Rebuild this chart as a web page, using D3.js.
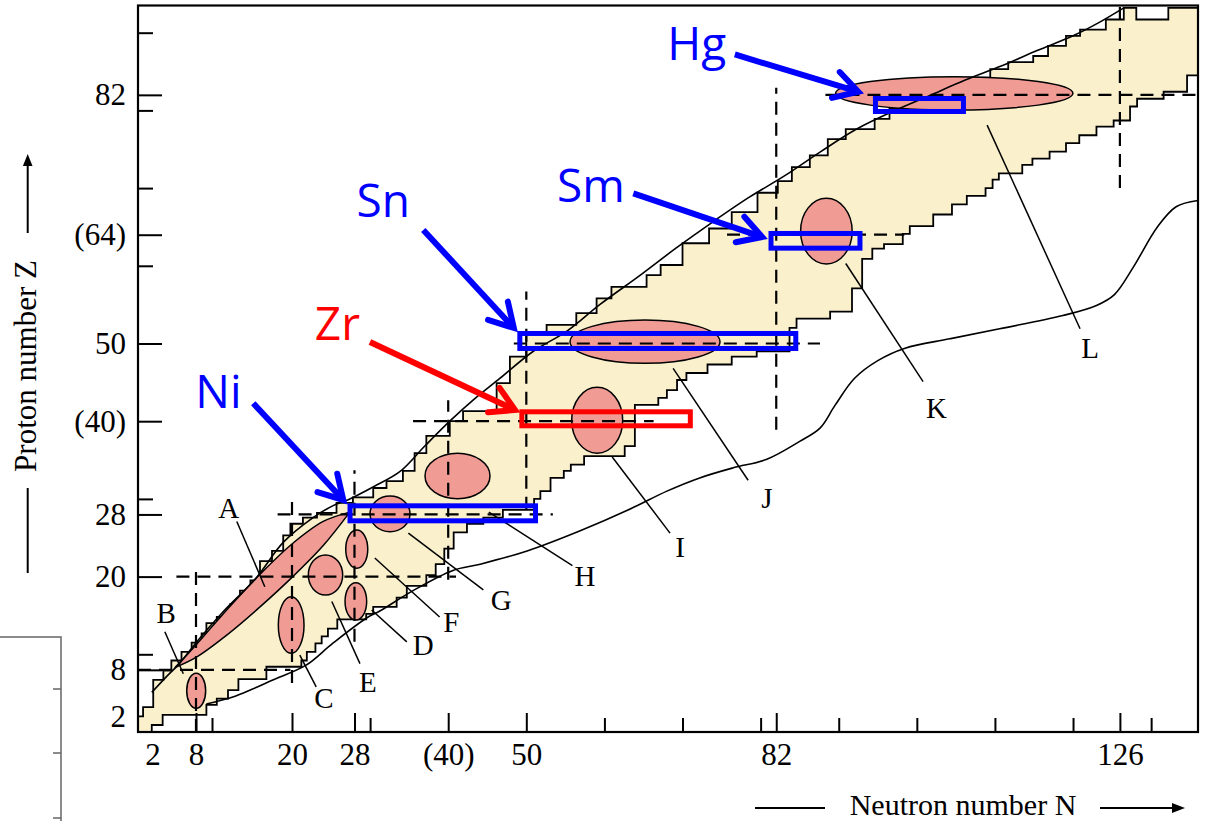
<!DOCTYPE html>
<html>
<head>
<meta charset="utf-8">
<script src="https://cdn.jsdelivr.net/npm/d3@7"></script>
<style>
  html, body { margin: 0; padding: 0; background: #fff; }
  svg { display: block; }
</style>
</head>
<body>
<svg id="chart" width="1205" height="821"></svg>
<script>
// ---------------- data (N = neutron number, Z = proton number) ----------------

// Known-nuclide band, proton-rich edge: rows of [left N, row top Z], bottom to top
const leftRows = [
  [0,2.0],[0.7,3.2],[2.1,6.7],[3.5,7.9],[4.6,9.2],[6.0,10.3],[7.4,11.5],[8.7,12.7],
  [9.3,14.0],[10.6,14.8],[12.3,16.5],[13.5,18.2],[14.8,19.5],[16.0,22.0],[17.5,23.3],
  [18.9,25.3],[19.8,26.8],[21.4,27.6],[23.2,28.2],[25.7,29.5],[27.8,30.2],[30.4,31.4],
  [32.1,32.3],[34.2,33.6],[35.7,35.9],[37.2,38.1],[40.2,40.0],[41.9,41.3],[46.2,44.9],
  [47.9,48.3],[50.0,51.2],[52.6,52.4],[56.4,53.9],[59.0,55.8],[60.9,57.3],[65.4,58.8],
  [67.2,60.1],[70.0,62.9],[73.4,64.8],[76.3,66.9],[79.6,69.4],[82.2,70.9],[84.0,72.7],
  [86.3,74.2],[88.6,76.3],[90.9,77.6],[94.6,78.9],[96.5,80.2],[99.0,81.2],[101.5,82.2],
  [104.0,83.2],[106.6,84.2],[109.4,85.3],[111.7,86.2],[114.9,87.0],[116.8,88.3],
  [119.1,89.6],[120.9,90.4],[124.2,91.7],[126.5,93.2]
];
// top edge of the band (with its small notch)
const topEdge = [[128.1,93.2],[128.1,91.7],[132.2,91.7],[132.2,93.2]];
const zCeil = 93.2;
// neutron-rich edge: rows of [row bottom Z, right N], bottom to top
const rightRows = [
  [0,1.9],[0.9,3.4],[2.2,9.3],[3.5,10.6],[4.3,12.0],[5.4,13.3],[6.8,16.8],[8.4,21.2],
  [9.2,21.9],[10.3,23.0],[11.4,23.8],[12.3,24.6],[13.3,25.8],[14.5,29.5],[15.2,30.4],
  [16.1,33.4],[17.3,34.7],[18.8,37.2],[20.2,38.4],[21.6,39.5],[23.6,40.7],[25.7,42.4],
  [26.8,44.5],[27.6,47.0],[28.6,51.0],[30.0,51.8],[31.0,53.1],[32.7,54.8],[33.6,55.7],
  [34.4,57.4],[35.5,62.6],[36.8,63.9],[42.1,66.9],[43.0,68.0],[44.0,69.3],[45.3,70.5],
  [46.2,73.2],[47.3,76.3],[48.3,79.5],[49.0,83.7],[52.0,84.6],[53.2,88.9],[54.1,91.7],
  [57.1,93.0],[60.9,94.3],[62.2,95.8],[62.8,98.2],[64.1,99.1],[65.1,102.1],[66.6,104.5],
  [67.9,106.4],[69.0,108.8],[70.0,109.7],[71.1,110.5],[71.9,113.5],[73.0,114.8],
  [73.8,117.0],[74.7,119.1],[75.8,120.8],[76.8,123.0],[77.9,125.2],[78.7,127.3],
  [80.5,128.2],[81.5,131.6],[82.4,134.6],[84.5,136.0]
];

// proton drip line and neutron drip line [N, Z]
const protonDrip = [
  [1.9,5.1],[3.8,7.0],[5.8,8.9],[8.0,11.5],[11.5,15.6],[15.5,19.8],[18.9,24.4],[22.7,27.6],
  [25.2,29.1],[27.2,29.9],[30.5,31.6],[33.8,33.5],[37.0,36.8],[40.2,40.0],[43.4,42.9],
  [46.6,45.5],[50.9,49.0],[55.2,51.6],[59.4,55.0],[64.6,58.8],[69.2,62.3],[73.8,65.6],
  [78.5,68.8],[83.1,71.6],[87.7,74.7],[92.3,77.6],[97.0,79.9],[101.6,81.9],[106.2,83.9],
  [110.8,85.7],[115.4,87.7],[120.0,89.6],[123.3,91.3],[126.5,93.2]
];
const neutronDrip = [
  [9.3,3.6],[12.6,4.5],[15.0,5.5],[17.6,6.7],[21.8,8.6],[25.2,11.4],[29.6,14.7],[31.3,15.6],
  [35.5,18.2],[40.6,20.8],[44.1,21.6],[50.1,23.3],[56.9,25.9],[63.3,28.7],[68.0,31.0],
  [72.2,32.7],[76.5,34.0],[80.8,35.1],[85.0,37.4],[87.6,39.1],[89.5,42.0],[92.0,45.5],
  [95.0,47.8],[98.5,49.4],[104.2,50.6],[110.6,51.9],[118.7,53.6],[123.0,54.9],[125.3,56.3],
  [127.7,59.8],[130.8,65.0],[133.2,67.6],[136.0,68.4]
];

// deformation region A (lens between two edges)
const lensUpper = [[5.1,8.3],[8.0,11.2],[12.0,15.9],[16.0,20.3],[20.0,24.2],[24.0,27.1],[27.4,28.3]];
const lensLower = [[5.1,8.3],[8.0,9.6],[12.0,12.6],[16.0,16.1],[20.0,19.9],[24.0,24.0],[27.4,28.3]];

// other deformation regions: [N min, N max, Z min, Z max]
const regions = [
  [6.72, 9.21, 3.05, 7.55],
  [18.29, 21.54, 10.13, 17.41],
  [26.79, 29.56, 14.41, 19.21],
  [22.09, 26.49, 17.63, 22.78],
  [26.88, 29.70, 21.07, 26.00],
  [29.99, 35.11, 25.78, 30.37],
  [37.03, 45.35, 30.03, 35.87],
  [55.81, 62.34, 35.87, 44.36],
  [55.60, 74.80, 47.45, 53.02],
  [85.12, 91.72, 60.23, 68.69],
  [89.60, 119.99, 80.05, 84.34]
];

// magic-number guide lines
const magicZ = [[8, 0, 19.8], [20, 5.3, 41.0], [28, 18.2, 53.4], [40, 35.5, 66.3], [50, 48.4, 87.6], [64, 75.7, 98.4], [82, 88.3, 136]];
const magicN = [[8, 0, 21.5], [20, 6.3, 29.9], [28, 11.6, 33.7], [40, 19.6, 42.7], [50, 28.6, 56.7], [82, 38.9, 82.9], [126, 70.0, 93.5]];

// region letters and their leader lines
const letters = ["A","B","C","D","E","F","G","H","I","J","K","L"];
const letterPos = [[12.1,27.5],[3.9,14.0],[24.1,3.1],[36.8,9.9],[29.7,5.1],[40.4,12.9],[46.8,15.7],[57.5,18.8],[69.7,22.5],[80.8,28.8],[102.5,40.4],[122.2,48.1]];
const leaderFrom = [[13.1,27.1],[3.7,12.9],[21.0,9.9],[30.2,15.7],[25.1,16.8],[30.6,22.4],[34.9,25.6],[45.2,28.3],[61.0,35.4],[68.8,46.8],[90.9,60.3],[109.0,78.1]];
const leaderTo = [[16.6,18.7],[6.25,7.5],[23.1,5.8],[34.7,11.6],[28.7,8.8],[38.9,14.8],[44.5,18.3],[55.9,21.4],[68.4,25.6],[78.4,32.4],[100.8,45.1],[120.9,51.9]];

// highlighted isotope chains: [N min, N max, Z min, Z max]
const elements = ["Ni","Zr","Sn","Sm","Hg"];
const elementColor = ["#0000ff","#ff0000","#0000ff","#0000ff","#0000ff"];
const chainBox = [
  [27.43, 51.18, 27.18, 29.11],
  [49.43, 71.00, 39.41, 41.21],
  [49.17, 84.50, 49.36, 51.29],
  [81.33, 92.72, 62.27, 64.16],
  [94.70, 105.97, 79.86, 81.53]
];
const elementLabelPos = [[13.7,41.66],[28.7,50.45],[35.1,66.3],[62.6,68.2],[75.6,86.5]];
const arrowTail = [[15.16,42.3],[29.98,50.2],[36.81,64.61],[63.7,69.33],[76.7,87.2]];
const arrowTip  = [[26.57,29.86],[48.55,41.44],[48.4,52.0],[80.2,63.71],[92.5,82.4]];

// axis ticks
const xLabels = [2, 8, 20, 28, 40, 50, 82, 126];
const xMajor = [8, 20, 28, 40, 50, 82, 126];
const xMinor = [10, 30, 60, 70, 80, 90, 100, 110, 120, 130];
const yLabels = [2, 8, 20, 28, 40, 50, 64, 82];
const yMajor = [8, 20, 28, 40, 50, 64, 82];
const yMinor = [10, 30, 60, 70, 80, 90];
const bracketed = [40, 64];

// ---------------- drawing ----------------
const YELLOW = "#faf1cc", PINK = "#f09b94";
const SERIF = "'Liberation Serif', 'DejaVu Serif', serif";

const svg = d3.select("#chart");
const x = d3.scaleLinear().domain([0, 8, 20, 136]).range([138, 196, 292, 1198]);
const y = d3.scaleLinear().domain([0, 93.5]).range([732, 5.5]);
const px = d => x(d[0]), py = d => y(d[1]);
const line = d3.line().x(px).y(py);
const smooth = d3.line().x(px).y(py).curve(d3.curveCatmullRom.alpha(0.5));

svg.append("defs").append("clipPath").attr("id", "plotClip")
  .append("rect")
  .attr("x", x(0)).attr("y", y(93.5))
  .attr("width", x(136) - x(0)).attr("height", y(0) - y(93.5));

const plot = svg.append("g").attr("clip-path", "url(#plotClip)");

// band of known nuclides
const verts = [];
let zb = 0;
leftRows.forEach(([n, zt]) => { verts.push([n, zb], [n, zt]); zb = zt; });
topEdge.forEach(p => verts.push(p));
for (let i = rightRows.length - 1; i >= 0; i--) {
  const [z0, n] = rightRows[i];
  const z1 = i === rightRows.length - 1 ? zCeil : rightRows[i + 1][0];
  verts.push([n, z1], [n, z0]);
}
plot.append("path")
  .attr("d", line(verts) + "Z")
  .attr("fill", YELLOW)
  .attr("stroke", "#000")
  .attr("stroke-width", 1.8)
  .attr("stroke-linejoin", "miter");

// deformed regions
plot.selectAll("ellipse.region").data(regions).join("ellipse")
  .attr("class", "region")
  .attr("cx", d => (x(d[0]) + x(d[1])) / 2)
  .attr("cy", d => (y(d[2]) + y(d[3])) / 2)
  .attr("rx", d => (x(d[1]) - x(d[0])) / 2)
  .attr("ry", d => (y(d[2]) - y(d[3])) / 2)
  .attr("fill", PINK)
  .attr("stroke", "#000")
  .attr("stroke-width", 1.5);

const lensPath = smooth(lensUpper) + smooth(lensLower.slice().reverse()).replace(/^M/, "L") + "Z";
plot.append("path")
  .attr("d", lensPath)
  .attr("fill", PINK)
  .attr("stroke", "#000")
  .attr("stroke-width", 1.5);

// drip lines
[protonDrip, neutronDrip].forEach(pts => {
  plot.append("path")
    .attr("d", smooth(pts))
    .attr("fill", "none")
    .attr("stroke", "#000")
    .attr("stroke-width", 1.6);
});

// magic numbers
const dash = "13,8";
plot.selectAll("line.magicZ").data(magicZ).join("line")
  .attr("x1", d => x(d[1])).attr("x2", d => x(d[2]))
  .attr("y1", d => y(d[0])).attr("y2", d => y(d[0]))
  .attr("stroke", "#000").attr("stroke-width", 2.2).attr("stroke-dasharray", dash);
plot.selectAll("line.magicN").data(magicN).join("line")
  .attr("x1", d => x(d[0])).attr("x2", d => x(d[0]))
  .attr("y1", d => y(d[1])).attr("y2", d => y(d[2]))
  .attr("stroke", "#000").attr("stroke-width", 2.2).attr("stroke-dasharray", dash);

// leaders and letters
plot.selectAll("line.leader").data(letters).join("line")
  .attr("x1", (d, i) => px(leaderFrom[i])).attr("y1", (d, i) => py(leaderFrom[i]))
  .attr("x2", (d, i) => px(leaderTo[i])).attr("y2", (d, i) => py(leaderTo[i]))
  .attr("stroke", "#000").attr("stroke-width", 1.5);

svg.selectAll("text.letter").data(letters).join("text")
  .attr("x", (d, i) => px(letterPos[i]))
  .attr("y", (d, i) => py(letterPos[i]))
  .attr("text-anchor", "middle")
  .attr("font-family", SERIF)
  .attr("font-size", 29)
  .attr("fill", "#000")
  .text(d => d);

// highlighted chains
plot.selectAll("rect.chain").data(chainBox).join("rect")
  .attr("x", d => x(d[0])).attr("y", d => y(d[3]))
  .attr("width", d => x(d[1]) - x(d[0]))
  .attr("height", d => y(d[2]) - y(d[3]))
  .attr("fill", "none")
  .attr("stroke", (d, i) => elementColor[i])
  .attr("stroke-width", 5);

// arrows and element names
elements.forEach((el, i) => {
  const t0 = [px(arrowTail[i]), py(arrowTail[i])];
  const t1 = [px(arrowTip[i]), py(arrowTip[i])];
  const ang = Math.atan2(t0[1] - t1[1], t0[0] - t1[0]);
  const L = 27, spread = 30 * Math.PI / 180;
  const a1 = [t1[0] + L * Math.cos(ang + spread), t1[1] + L * Math.sin(ang + spread)];
  const a2 = [t1[0] + L * Math.cos(ang - spread), t1[1] + L * Math.sin(ang - spread)];
  const g = svg.append("g").attr("stroke", elementColor[i]).attr("stroke-width", 6).attr("fill", "none");
  g.append("line").attr("x1", t0[0]).attr("y1", t0[1]).attr("x2", t1[0] - 2 * Math.cos(ang + Math.PI)).attr("y2", t1[1] - 2 * Math.sin(ang + Math.PI));
  g.append("path").attr("d", `M${a1[0]},${a1[1]}L${t1[0]},${t1[1]}L${a2[0]},${a2[1]}`)
    .attr("stroke-linejoin", "miter").attr("stroke-linecap", "round");
  svg.append("text")
    .attr("x", px(elementLabelPos[i])).attr("y", py(elementLabelPos[i]))
    .attr("text-anchor", "end")
    .attr("font-family", "'Open Sans', 'Noto Sans', sans-serif")
    .attr("font-size", 46)
    .attr("fill", elementColor[i])
    .text(el);
});

// frame
svg.append("rect")
  .attr("x", x(0)).attr("y", y(93.5))
  .attr("width", x(136) - x(0)).attr("height", y(0) - y(93.5))
  .attr("fill", "none").attr("stroke", "#000").attr("stroke-width", 2.2);

// axes (ticks point inward)
const fmt = v => bracketed.includes(v) ? `(${v})` : String(v);
function styleAxis(g) {
  g.select(".domain").remove();
  g.selectAll(".tick line").attr("stroke", "#000").attr("stroke-width", 2);
  g.selectAll("text").attr("font-family", SERIF).attr("font-size", 31).attr("fill", "#000");
}
const xg = svg.append("g").attr("transform", `translate(0,${y(0)})`);
xg.append("g").call(d3.axisBottom(x).tickValues(xMajor).tickSize(-19).tickFormat("")).call(styleAxis);
xg.append("g").call(d3.axisBottom(x).tickValues(xMinor).tickSize(-14).tickFormat("")).call(styleAxis);
xg.append("g").call(d3.axisBottom(x).tickValues(xLabels).tickSize(0).tickPadding(11).tickFormat(fmt)).call(styleAxis);

const yg = svg.append("g").attr("transform", `translate(${x(0)},0)`);
yg.append("g").call(d3.axisLeft(y).tickValues(yMajor).tickSize(-24).tickFormat("")).call(styleAxis);
yg.append("g").call(d3.axisLeft(y).tickValues(yMinor).tickSize(-15).tickFormat("")).call(styleAxis);
yg.append("g").call(d3.axisLeft(y).tickValues(yLabels).tickSize(0).tickPadding(12).tickFormat(fmt)).call(styleAxis);

// axis titles with arrows
svg.append("text")
  .attr("transform", "translate(36,366) rotate(-90)")
  .attr("text-anchor", "middle")
  .attr("font-family", SERIF).attr("font-size", 31)
  .text("Proton number Z");
svg.append("line").attr("x1", 27.7).attr("x2", 27.7).attr("y1", 488).attr("y2", 573).attr("stroke", "#000").attr("stroke-width", 2);
svg.append("line").attr("x1", 27.7).attr("x2", 27.7).attr("y1", 233).attr("y2", 163).attr("stroke", "#000").attr("stroke-width", 2);
svg.append("path").attr("d", "M27.7,154 L32.5,166 L22.9,166 Z").attr("fill", "#000");

svg.append("text")
  .attr("x", 963).attr("y", 815)
  .attr("text-anchor", "middle")
  .attr("font-family", SERIF).attr("font-size", 30)
  .text("Neutron number N");
svg.append("line").attr("x1", 755).attr("x2", 825).attr("y1", 808).attr("y2", 808).attr("stroke", "#000").attr("stroke-width", 2);
svg.append("line").attr("x1", 1100).attr("x2", 1174).attr("y1", 808).attr("y2", 808).attr("stroke", "#000").attr("stroke-width", 2);
svg.append("path").attr("d", "M1185,808 L1172,803 L1172,813 Z").attr("fill", "#000");

// partial neighbouring frame at the lower left edge
const side = svg.append("g").attr("stroke", "#666").attr("stroke-width", 1.5).attr("fill", "none");
side.append("path").attr("d", "M0,637 H61 V821");
[689, 753, 818].forEach(v => side.append("line").attr("x1", 53).attr("x2", 61).attr("y1", v).attr("y2", v));
</script>
</body>
</html>
